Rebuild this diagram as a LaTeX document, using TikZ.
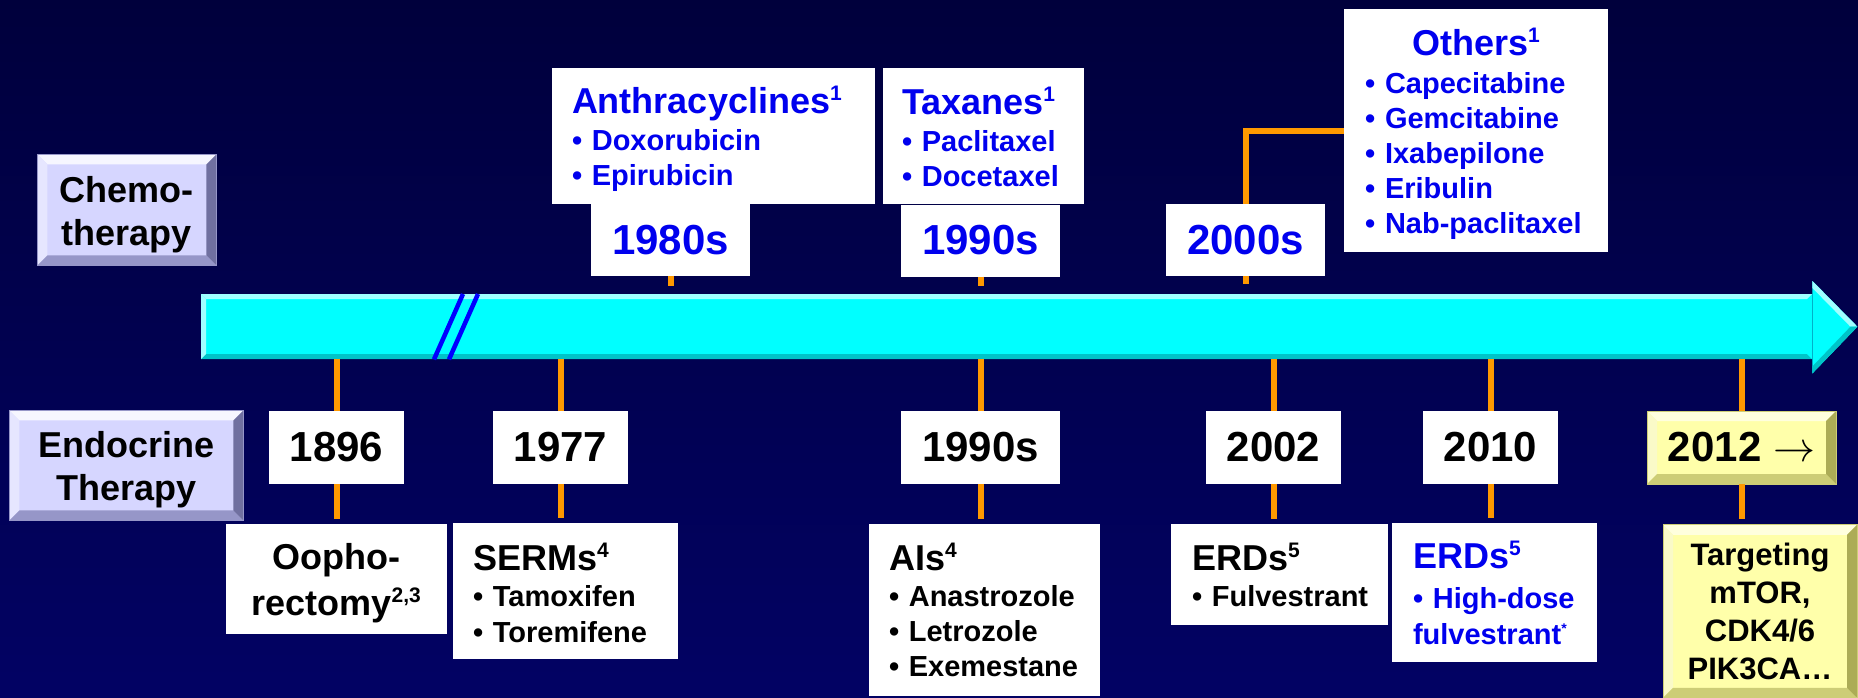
\documentclass[tikz,border=0pt]{standalone}
\usepackage{fix-cm}
\usepackage{fontspec}
\setmainfont{Liberation Sans}
\usetikzlibrary{positioning}

\definecolor{navytop}{RGB}{0,0,60}
\definecolor{navybottom}{RGB}{2,2,100}
\definecolor{axiscyan}{RGB}{0,255,255}
\definecolor{axislight}{RGB}{160,255,255}
\definecolor{axisdark}{RGB}{0,196,200}
\definecolor{stemorange}{RGB}{255,153,0}
\definecolor{chemoblue}{RGB}{0,0,238}
\definecolor{slashblue}{RGB}{0,0,255}
\definecolor{lavender}{RGB}{214,214,255}
\definecolor{lavtop}{RGB}{246,246,255}
\definecolor{lavleft}{RGB}{230,230,255}
\definecolor{lavbottom}{RGB}{150,150,200}
\definecolor{lavright}{RGB}{112,112,160}
\definecolor{paleyellow}{RGB}{255,255,170}
\definecolor{yeltop}{RGB}{255,255,222}
\definecolor{yelleft}{RGB}{250,250,200}
\definecolor{yelbottom}{RGB}{205,205,118}
\definecolor{yelright}{RGB}{172,172,86}

\newcommand\bevw{10pt}
\newcommand\sidefont{\fontsize{36}{43}\selectfont\bfseries}
\newcommand\yearfont{\fontsize{42}{46}\selectfont\bfseries}
\newcommand\headfont{\fontsize{36}{36}\selectfont\bfseries}
\newcommand\drugfont{\fontsize{29}{35}\selectfont\bfseries}
\newcommand\fnote[1]{\textsuperscript{\fontsize{21}{21}\selectfont #1}}
\newcommand\drug[1]{\mbox{\textbullet\ #1}}

\begin{document}
\begin{tikzpicture}[
    x=1pt, y=-1pt,
    every node/.style={inner sep=0pt},
    bevel width/.code={\renewcommand\bevw{#1}},
    bevel/.style n args={5}{
        fill=#1,
        path picture={
            \coordinate (bnw) at (path picture bounding box.north west);
            \coordinate (bne) at (path picture bounding box.north east);
            \coordinate (bsw) at (path picture bounding box.south west);
            \coordinate (bse) at (path picture bounding box.south east);
            \fill[#2] (bnw) -- (bne) -- ([shift={(-\bevw,-\bevw)}]bne) -- ([shift={(\bevw,-\bevw)}]bnw) -- cycle;
            \fill[#3] (bnw) -- (bsw) -- ([shift={(\bevw,\bevw)}]bsw) -- ([shift={(\bevw,-\bevw)}]bnw) -- cycle;
            \fill[#4] (bsw) -- (bse) -- ([shift={(-\bevw,\bevw)}]bse) -- ([shift={(\bevw,\bevw)}]bsw) -- cycle;
            \fill[#5] (bne) -- (bse) -- ([shift={(-\bevw,\bevw)}]bse) -- ([shift={(-\bevw,-\bevw)}]bne) -- cycle;
        }
    },
    sidebox/.style={
        bevel={lavender}{lavtop}{lavleft}{lavbottom}{lavright},
        draw=lavbottom,
        line width=0.8pt,
        align=center,
        font=\sidefont
    },
    goldbox/.style={
        bevel={paleyellow}{yeltop}{yelleft}{yelbottom}{yelright},
        draw=yelbottom,
        line width=0.8pt
    },
    yearbox/.style={fill=white, minimum height=73pt, font=\yearfont},
    chemoyear/.style={yearbox, minimum height=72pt, minimum width=159pt, text=chemoblue},
    listbox/.style={fill=white, align=left, inner ysep=0pt, font=\drugfont},
    stem/.style={draw=stemorange, line width=6pt},
    slash/.style={draw=slashblue, line width=4.5pt}
]

\useasboundingbox (0,0) rectangle (1858,698);
\shade[top color=navytop, bottom color=navybottom] (0,0) rectangle (1858,698);

\node[bevel={axiscyan}{axislight}{axislight}{axisdark}{axiscyan}, bevel width=5pt,
      minimum width=1611pt, minimum height=65pt, anchor=north west] (axis) at (201,294) {};
\fill[axiscyan] ([yshift=13pt]axis.north east) -- ([xshift=45pt]axis.east) -- ([yshift=-14pt]axis.south east) -- cycle;
\fill[axislight] ([yshift=13pt]axis.north east) -- ([xshift=45pt]axis.east) -- ([xshift=38pt]axis.east) -- ([yshift=6pt]axis.north east) -- cycle;
\fill[axisdark] ([yshift=-14pt]axis.south east) -- ([xshift=45pt]axis.east) -- ([xshift=38pt]axis.east) -- ([yshift=-7pt]axis.south east) -- cycle;
\draw[slash] ([xshift=233pt]axis.south west) -- ([xshift=262pt]axis.north west);
\draw[slash] ([xshift=248pt]axis.south west) -- ([xshift=277pt]axis.north west);

\node[sidebox, text width=179pt, text height=48pt, text depth=63pt, anchor=north west] (chemo) at (37,154) {Chemo-\\therapy};
\node[sidebox, text width=234pt, text height=47pt, text depth=63pt, anchor=north west] (endo) at (9,410) {Endocrine\\Therapy};

\node[chemoyear] (c1980) at (670.5,240) {1980s};
\node[chemoyear] (c1990) at (980.5,240.5) {1990s};
\node[chemoyear] (c2000) at (1245.5,240) {2000s};

\node[listbox, above=0pt of c1980, xshift=43pt, inner xsep=20pt, text width=283pt,
      text height=46pt, text depth=90pt, text=chemoblue] (anthra) {
    {\headfont Anthracyclines\fnote{1}}\\[2pt]
    \drug{Doxorubicin}\\
    \drug{Epirubicin}
};
\node[listbox, above=0pt of c1990, xshift=3pt, inner xsep=19pt, text width=163pt,
      text height=46pt, text depth=90pt, text=chemoblue] (taxanes) {
    {\headfont Taxanes\fnote{1}}\\[2pt]
    \drug{Paclitaxel}\\
    \drug{Docetaxel}
};
\node[listbox, anchor=north west, inner xsep=21pt, text width=222pt,
      text height=46pt, text depth=197pt, text=chemoblue] (others) at (1344,9) {
    {\headfont\makebox[\linewidth]{Others\fnote{1}}}\\[3pt]
    \drug{Capecitabine}\\
    \drug{Gemcitabine}\\
    \drug{Ixabepilone}\\
    \drug{Eribulin}\\
    \drug{Nab-paclitaxel}
};

\node[yearbox, minimum width=135pt] (e1896) at (336.5,447.5) {1896};
\node[yearbox, minimum width=135pt] (e1977) at (560.5,447.5) {1977};
\node[yearbox, minimum width=159pt] (e1990) at (980.5,447.5) {1990s};
\node[yearbox, minimum width=135pt] (e2002) at (1273.5,447.5) {2002};
\node[yearbox, minimum width=135pt] (e2010) at (1490.5,447.5) {2010};
\node[yearbox, goldbox, minimum width=189pt] (e2012) at (1741.5,447.5) {2012 $\rightarrow$};

\node[listbox, below=40pt of e1896, align=center, inner xsep=0pt, text width=221pt,
      text height=45pt, text depth=65pt, font=\fontsize{36}{46}\selectfont\bfseries] (oopho) {
    Oopho-\\rectomy\fnote{2,3}
};
\node[listbox, below=39pt of e1977, xshift=5pt, inner xsep=20pt, text width=185pt,
      text height=47pt, text depth=89pt] (serms) {
    {\headfont SERMs\fnote{4}}\\[1pt]
    \drug{Tamoxifen}\\[1pt]
    \drug{Toremifene}
};
\node[listbox, below=40pt of e1990, xshift=4pt, inner xsep=20pt, text width=191pt,
      text height=46pt, text depth=126pt] (ais) {
    {\headfont AIs\fnote{4}}\\[1pt]
    \drug{Anastrozole}\\
    \drug{Letrozole}\\
    \drug{Exemestane}
};
\node[listbox, below=40pt of e2002, xshift=6pt, inner xsep=21pt, text width=175pt,
      text height=46pt, text depth=55pt] (erdone) {
    {\headfont ERDs\fnote{5}}\\[1pt]
    \drug{Fulvestrant}
};
\node[listbox, below=39pt of e2010, xshift=4pt, inner xsep=21pt, text width=163pt,
      text height=45pt, text depth=94pt, text=chemoblue] (erdtwo) {
    {\headfont ERDs\fnote{5}}\\[5pt]
    \drug{High-dose}\\[1pt]
    fulvestrant\textsuperscript{\fontsize{14}{14}\selectfont *}
};
\node[goldbox, below=40pt of e2012, xshift=18.5pt, align=center, text width=194pt,
      text height=41pt, text depth=132pt, font=\fontsize{31}{38}\selectfont\bfseries] (target) {
    Targeting\\mTOR,\\CDK4/6\\PIK3CA…
};

\draw[stem] (c1980.south) -- ([yshift=8pt]c1980.south |- axis.north);
\draw[stem] (c1990.south) -- ([yshift=8pt]c1990.south |- axis.north);
\draw[stem] (c2000.south) -- ([yshift=10pt]c2000.south |- axis.north);
\draw[stem] (c2000.north) |- (others.west);

\foreach \yr/\desc in {e1896/oopho, e1977/serms, e1990/ais, e2002/erdone, e2010/erdtwo, e2012/target} {
    \draw[stem] (\yr.north) -- (\yr.north |- axis.south);
    \draw[stem] (\yr.south) -- ([yshift=5pt]\yr.south |- \desc.north);
}

\end{tikzpicture}
\end{document}
